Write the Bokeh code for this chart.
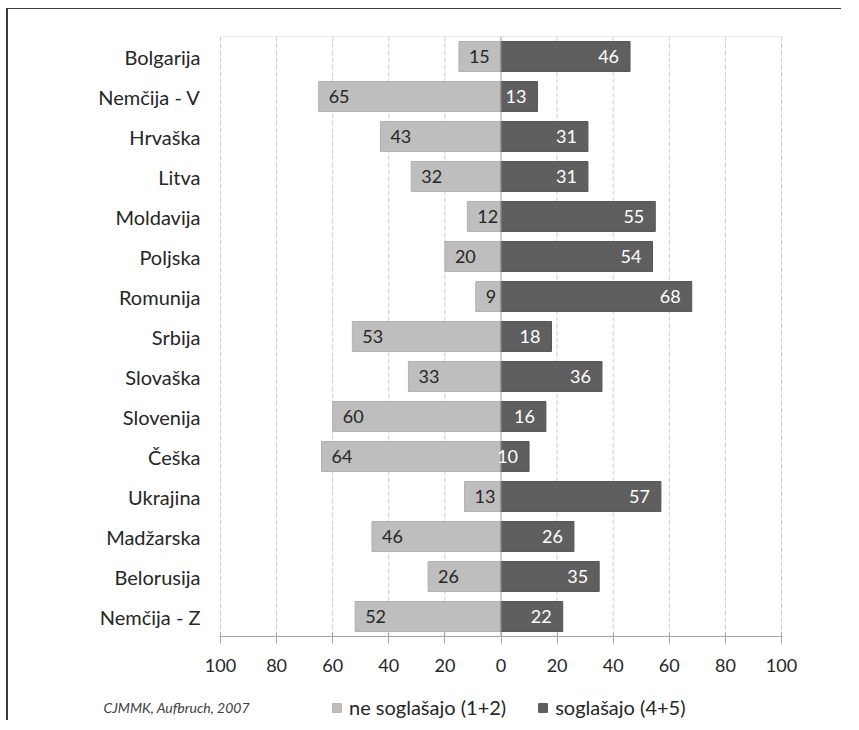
from bokeh.plotting import figure
from bokeh.models import ColumnDataSource, Range1d, Legend, LegendItem, Label, FixedTicker
from bokeh.core.properties import value
from bokeh.embed import file_html
from bokeh.resources import INLINE

countries = ["Bolgarija", "Nemčija - V", "Hrvaška", "Litva", "Moldavija", "Poljska",
             "Romunija", "Srbija", "Slovaška", "Slovenija", "Češka", "Ukrajina",
             "Madžarska", "Belorusija", "Nemčija - Z"]
ne_soglasajo = [15, 65, 43, 32, 12, 20, 9, 53, 33, 60, 64, 13, 46, 26, 52]
soglasajo = [46, 13, 31, 31, 55, 54, 68, 18, 36, 16, 10, 57, 26, 35, 22]
tick_values = [-100, -80, -60, -40, -20, 0, 20, 40, 60, 80, 100]
tick_labels = ["100", "80", "60", "40", "20", "0", "20", "40", "60", "80", "100"]
series_names = ["ne soglašajo (1+2)", "soglašajo (4+5)"]
source_note = "CJMMK, Aufbruch, 2007"

FONT = "Lato"
LIGHT = "#bebebe"
DARK = "#5f5f5f"
TEXT = "#262626"

n = len(countries)
# category slots: first country at the top
slot = [n - 0.5 - i for i in range(n)]

src = ColumnDataSource(dict(
    slot=slot,
    neg=[-v for v in ne_soglasajo],
    pos=soglasajo,
    neg_lbl=[str(v) for v in ne_soglasajo],
    pos_lbl=[str(v) for v in soglasajo],
))

grid_src = ColumnDataSource(dict(
    x=[t for t in tick_values if t != 0],
    y0=[0] * (len(tick_values) - 1),
    y1=[n] * (len(tick_values) - 1),
))

XMIN, XMAX = tick_values[0], tick_values[-1]
PX_PER_UNIT = 561 / (XMAX - XMIN)
LEFT_EXTRA = 130          # px of frame left of the "100" tick (category labels / note)
RIGHT_EXTRA = 28          # px of frame right of the last tick (room for its label)
BOTTOM_EXTRA = 84         # px of frame below the axis (tick labels / legend)

p = figure(frame_width=561 + LEFT_EXTRA + RIGHT_EXTRA, frame_height=600 + BOTTOM_EXTRA,
           output_backend="svg", toolbar_location=None,
           x_range=Range1d(XMIN - LEFT_EXTRA / PX_PER_UNIT, XMAX + RIGHT_EXTRA / PX_PER_UNIT),
           y_range=Range1d(-BOTTOM_EXTRA / 40, n),
           min_border_left=82, min_border_right=32, min_border_top=27, min_border_bottom=0)
p.styles = {"border-left": "2px solid #3c3c3c", "border-top": "1px solid #3c3c3c",
            "margin-left": "6px", "margin-top": "8px"}
p.outline_line_color = None
p.grid.grid_line_color = None
p.background_fill_color = "white"
p.border_fill_color = "white"

# dashed vertical gridlines (only over the plotting area)
p.segment(x0="x", y0="y0", x1="x", y1="y1", source=grid_src,
          line_color="#cccccc", line_dash="5 2", line_width=1)
# top border of plot area
p.segment(x0=[XMIN], y0=[n], x1=[XMAX], y1=[n], line_color="#d6d6d6", line_width=1)

r_neg = p.hbar(y="slot", left="neg", right=0, height=0.75, source=src,
               fill_color=LIGHT, line_color="#b2b2b2", line_width=1)
r_pos = p.hbar(y="slot", left=0, right="pos", height=0.75, source=src,
               fill_color=DARK, line_color="#565656", line_width=1)

# zero line
p.segment(x0=[0], y0=[0], x1=[0], y1=[n], line_color="#9a9a9a", line_width=1)

# value labels
p.text(x="neg", y="slot", text="neg_lbl", source=src, x_offset=10,
       text_align="left", text_baseline="middle", text_color=TEXT,
       text_font=value(FONT), text_font_size="18px")
p.text(x="pos", y="slot", text="pos_lbl", source=src, x_offset=-11,
       text_align="right", text_baseline="middle", text_color="white",
       text_font=value(FONT), text_font_size="18px")

# x axis at the bottom of the category area
xa = p.xaxis[0]
xa.fixed_location = 0
xa.bounds = (XMIN, XMAX)
xa.ticker = FixedTicker(ticks=tick_values)
xa.major_label_overrides = {v: l for v, l in zip(tick_values, tick_labels)}
xa.axis_line_color = "#a6a6a6"
xa.major_tick_line_color = "#a6a6a6"
xa.major_tick_in = 4
xa.major_tick_out = 7
xa.minor_tick_line_color = None
xa.major_label_standoff = 15
xa.major_label_text_font = FONT
xa.major_label_text_font_size = "18px"
xa.major_label_text_color = TEXT

# category axis at the left edge of the value scale
ya = p.yaxis[0]
ya.fixed_location = XMIN
ya.ticker = FixedTicker(ticks=slot)
ya.major_label_overrides = {s: c for s, c in zip(slot, countries)}
ya.axis_line_color = None
ya.major_tick_line_color = None
ya.major_tick_out = 0
ya.major_tick_in = 0
ya.minor_tick_line_color = None
ya.major_label_standoff = 20
ya.major_label_text_font = FONT
ya.major_label_text_font_size = "20px"
ya.major_label_text_color = TEXT

legend = Legend(items=[LegendItem(label=series_names[0], renderers=[r_neg]),
                       LegendItem(label=series_names[1], renderers=[r_pos])],
                orientation="horizontal", location=(241, 1),
                border_line_color=None, background_fill_alpha=0,
                label_text_font=FONT, label_text_font_size="20px", label_text_color=TEXT,
                glyph_width=11, glyph_height=11, spacing=31, padding=2, margin=0,
                label_standoff=7)
p.add_layout(legend, "center")

p.add_layout(Label(x=XMIN, y=0, x_offset=-117, y_offset=-71, text=source_note,
                   text_font=FONT, text_font_style="italic", text_font_size="14px",
                   text_color="#404040", text_baseline="middle"))

open("out.html", "w").write(file_html(p, INLINE))
